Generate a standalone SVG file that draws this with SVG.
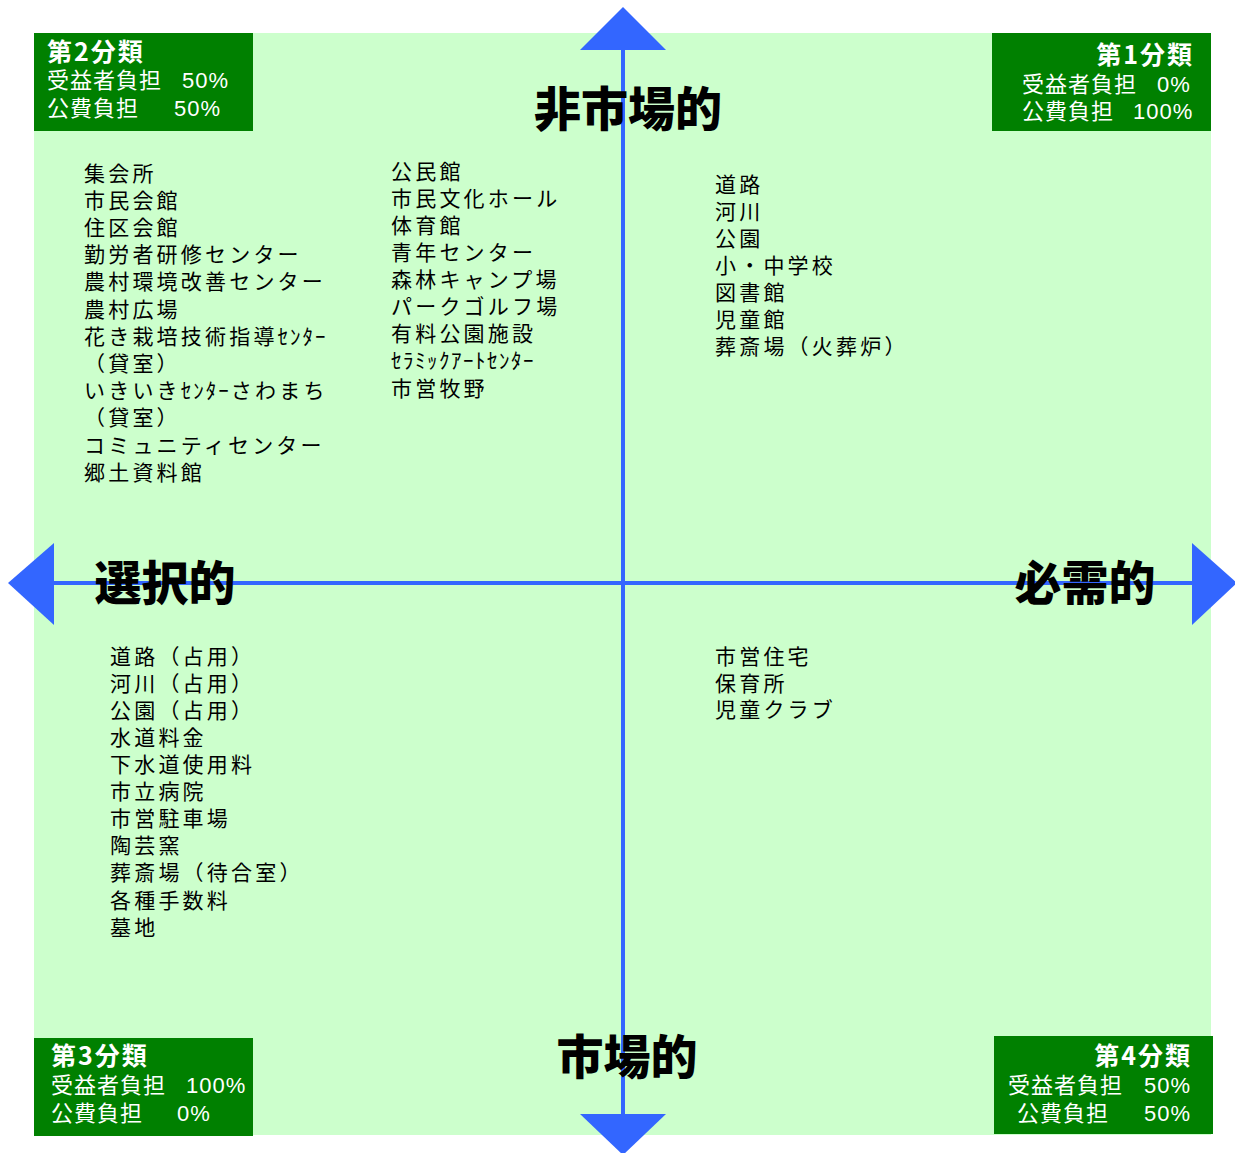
<svg xmlns="http://www.w3.org/2000/svg" width="1235" height="1153" viewBox="0 0 1235 1153">
<style>
.bg{fill:#CCFFCC}
.box{fill:#008000}
.bt{font-family:"Liberation Sans","Noto Sans CJK JP",sans-serif;font-size:22px;fill:#fff;letter-spacing:1px}
.bh{font-family:"Noto Sans CJK JP",sans-serif;font-size:25px;font-weight:bold;fill:#fff;letter-spacing:2px}
.li{font-family:"Noto Sans CJK JP",sans-serif;font-size:21px;fill:#000;letter-spacing:3.2px}
.hw{letter-spacing:2px}
.ax{font-family:"Noto Sans CJK JP",sans-serif;font-size:47px;font-weight:900;fill:#000}
.axis{stroke:#3366FF;stroke-width:4;fill:none}
.head{fill:#3366FF}
</style>
<rect class="bg" x="34" y="33" width="1177" height="1102"/>
<g id="connectors">
<line class="axis" x1="623" y1="48" x2="623" y2="1116"/>
<line class="axis" x1="52" y1="583" x2="1194" y2="583"/>
<polygon class="head" points="623,7 666,50 580,50"/>
<polygon class="head" points="623,1155 666,1114 580,1114"/>
<polygon class="head" points="8,583 54,543 54,625"/>
<polygon class="head" points="1237,583 1192,543 1192,625"/>
</g>
<g id="cat2">
<rect class="box" x="34" y="33" width="219" height="98"/>
<text class="bh" x="47" y="61">第2分類</text>
<text class="bt" x="47" y="88">受益者負担<tspan x="182">50%</tspan></text>
<text class="bt" x="47" y="116">公費負担<tspan x="174">50%</tspan></text>
</g>
<g id="cat1">
<rect class="box" x="992" y="33" width="219" height="98"/>
<text class="bh" x="1194" y="64" text-anchor="end">第1分類</text>
<text class="bt" x="1022" y="92">受益者負担<tspan x="1157">0%</tspan></text>
<text class="bt" x="1022" y="119">公費負担<tspan x="1133">100%</tspan></text>
</g>
<g id="cat3">
<rect class="box" x="34" y="1038" width="219" height="98"/>
<text class="bh" x="51" y="1065">第3分類</text>
<text class="bt" x="51" y="1093">受益者負担<tspan x="186">100%</tspan></text>
<text class="bt" x="51" y="1121">公費負担<tspan x="177">0%</tspan></text>
</g>
<g id="cat4">
<rect class="box" x="994" y="1036" width="219" height="98"/>
<text class="bh" x="1192" y="1065" text-anchor="end">第4分類</text>
<text class="bt" x="1008" y="1093">受益者負担<tspan x="1144">50%</tspan></text>
<text class="bt" x="1017" y="1121">公費負担<tspan x="1144">50%</tspan></text>
</g>
<g id="label-nonmarket"><text class="ax" x="628" y="126" text-anchor="middle">非市場的</text></g>
<g id="label-selective"><text class="ax" x="165" y="600" text-anchor="middle">選択的</text></g>
<g id="label-essential"><text class="ax" x="1085" y="600" text-anchor="middle">必需的</text></g>
<g id="label-market"><text class="ax" x="627" y="1074" text-anchor="middle">市場的</text></g>
<g id="list-q2a">
<text class="li" x="84" y="181">集会所</text>
<text class="li" x="84" y="208">市民会館</text>
<text class="li" x="84" y="235">住区会館</text>
<text class="li" x="84" y="262">勤労者研修センター</text>
<text class="li" x="84" y="289">農村環境改善センター</text>
<text class="li" x="84" y="317">農村広場</text>
<text class="li" x="84" y="344">花き栽培技術指導<tspan class="hw">ｾﾝﾀｰ</tspan></text>
<text class="li" x="84" y="371">（貸室）</text>
<text class="li" x="84" y="398">いきいき<tspan class="hw">ｾﾝﾀｰ</tspan>さわまち</text>
<text class="li" x="84" y="425">（貸室）</text>
<text class="li" x="84" y="453">コミュニティセンター</text>
<text class="li" x="84" y="480">郷土資料館</text>
</g>
<g id="list-q2b">
<text class="li" x="391" y="179">公民館</text>
<text class="li" x="391" y="206">市民文化ホール</text>
<text class="li" x="391" y="233">体育館</text>
<text class="li" x="391" y="260">青年センター</text>
<text class="li" x="391" y="287">森林キャンプ場</text>
<text class="li" x="391" y="314">パークゴルフ場</text>
<text class="li" x="391" y="341">有料公園施設</text>
<text class="li" x="391" y="368" style="letter-spacing:1.5px">ｾﾗﾐｯｸｱｰﾄｾﾝﾀｰ</text>
<text class="li" x="391" y="396">市営牧野</text>
</g>
<g id="list-q1">
<text class="li" x="715" y="192">道路</text>
<text class="li" x="715" y="219">河川</text>
<text class="li" x="715" y="246">公園</text>
<text class="li" x="715" y="273">小・中学校</text>
<text class="li" x="715" y="300">図書館</text>
<text class="li" x="715" y="327">児童館</text>
<text class="li" x="715" y="354">葬斎場（火葬炉）</text>
</g>
<g id="list-q3">
<text class="li" x="110" y="664">道路（占用）</text>
<text class="li" x="110" y="691">河川（占用）</text>
<text class="li" x="110" y="718">公園（占用）</text>
<text class="li" x="110" y="745">水道料金</text>
<text class="li" x="110" y="772">下水道使用料</text>
<text class="li" x="110" y="799">市立病院</text>
<text class="li" x="110" y="826">市営駐車場</text>
<text class="li" x="110" y="853">陶芸窯</text>
<text class="li" x="110" y="880">葬斎場（待合室）</text>
<text class="li" x="110" y="908">各種手数料</text>
<text class="li" x="110" y="935">墓地</text>
</g>
<g id="list-q4">
<text class="li" x="715" y="664">市営住宅</text>
<text class="li" x="715" y="691">保育所</text>
<text class="li" x="715" y="717">児童クラブ</text>
</g>
</svg>
